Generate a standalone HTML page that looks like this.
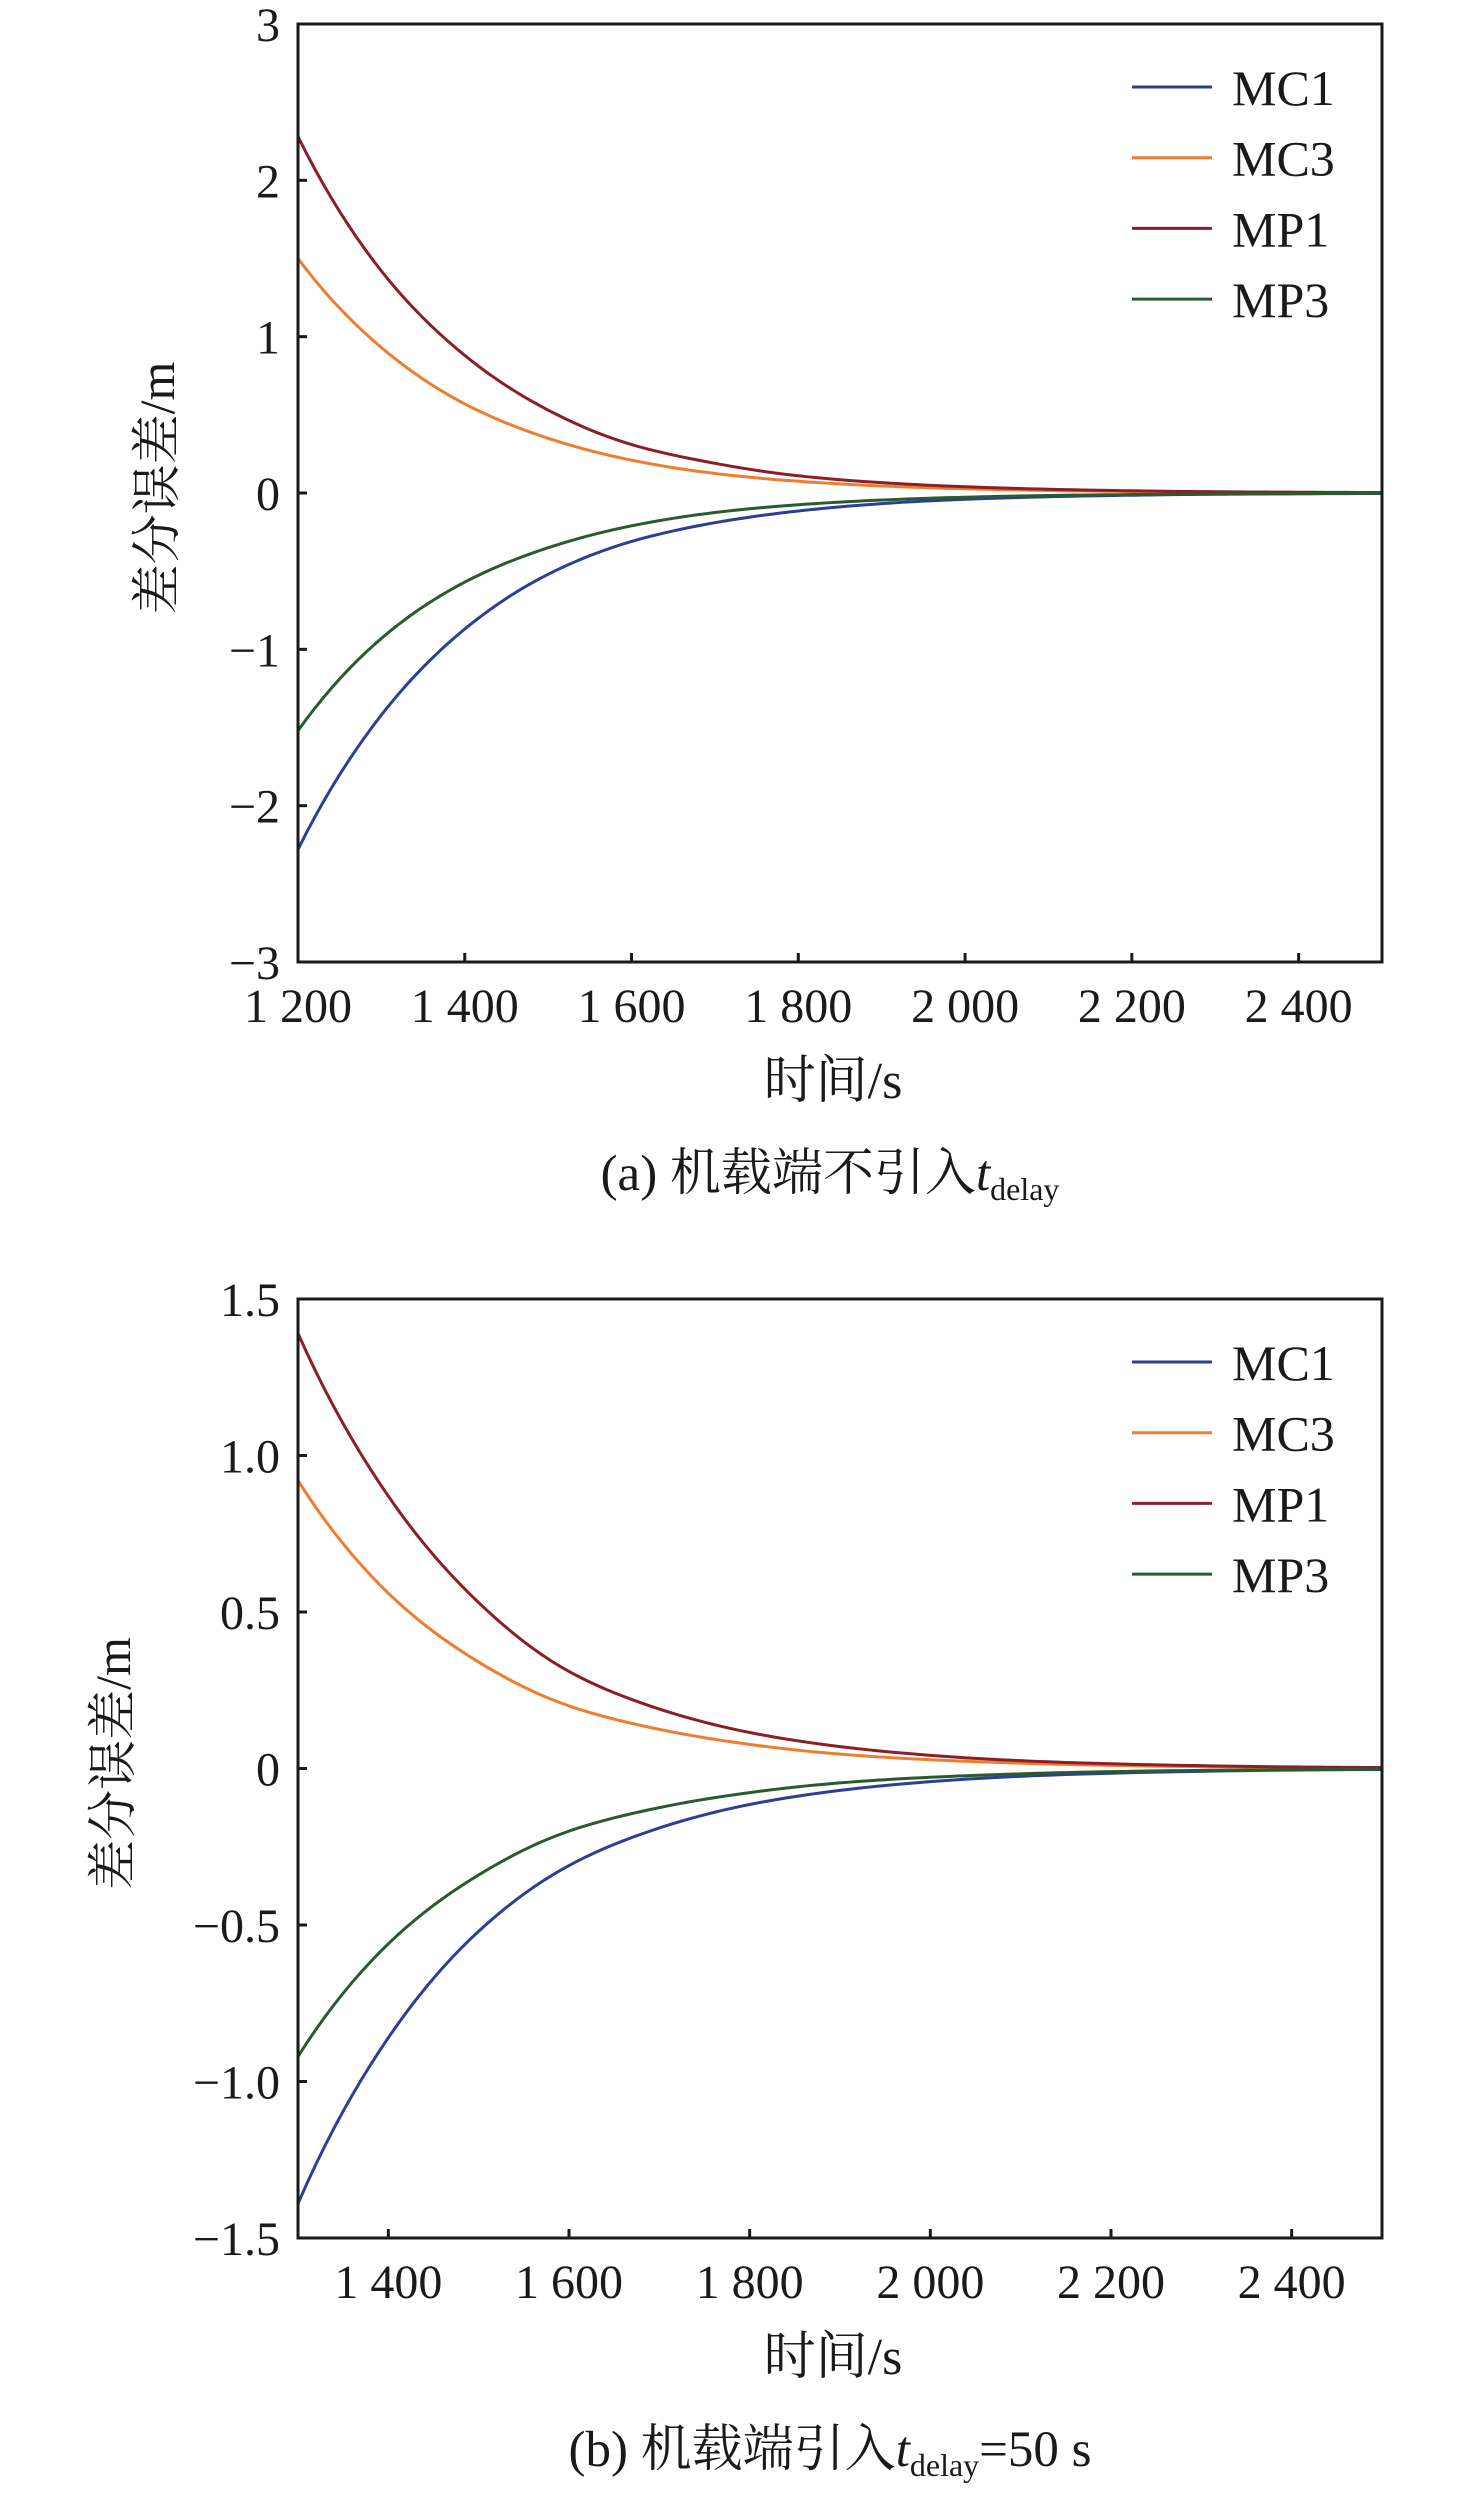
<!DOCTYPE html>
<html><head><meta charset="utf-8"><style>
html,body{margin:0;padding:0;background:#fff;}
svg{display:block;}
text{font-family:"Liberation Serif","Noto Serif CJK SC",serif;fill:#1a1a1a;}
</style></head><body>
<svg id="fig" width="1476" height="2495" viewBox="0 0 1476 2495" xmlns="http://www.w3.org/2000/svg"></svg>
<script>
const seriesNames = ["MC1","MC3","MP1","MP3"];
const seriesColors = ["#2b3f95","#ee7d2f","#8c1f26","#2a5a30"];
// Panel (a): time 1200..2500 step 100
const timesA = [1200,1300,1400,1500,1600,1700,1800,1900,2000,2100,2200,2300,2400,2500];
const mc1A = [-2.28,-1.42,-0.87,-0.52,-0.31,-0.19,-0.115,-0.068,-0.04,-0.024,-0.014,-0.008,-0.005,-0.003];
const mc3A = [1.50,0.93,0.57,0.35,0.21,0.125,0.075,0.045,0.027,0.016,0.01,0.006,0.004,0.002];
const mp1A = [2.28,1.42,0.88,0.53,0.31,0.19,0.11,0.066,0.04,0.024,0.014,0.008,0.005,0.003];
const mp3A = [-1.52,-0.93,-0.57,-0.35,-0.21,-0.125,-0.075,-0.045,-0.027,-0.016,-0.01,-0.006,-0.004,-0.002];
const yTicksA = [-3,-2,-1,0,1,2,3];
const yTickLabelsA = ["\u22123","\u22122","\u22121","0","1","2","3"];
const xTicksA = [1200,1400,1600,1800,2000,2200,2400];
const xTickLabelsA = ["1 200","1 400","1 600","1 800","2 000","2 200","2 400"];
// Panel (b): time 1300..2500 step 100
const timesB = [1300,1400,1500,1600,1700,1800,1900,2000,2100,2200,2300,2400,2500];
const mc1B = [-1.39,-0.86,-0.52,-0.31,-0.19,-0.115,-0.07,-0.042,-0.025,-0.015,-0.009,-0.005,-0.003];
const mc3B = [0.92,0.56,0.34,0.20,0.125,0.077,0.046,0.028,0.017,0.01,0.006,0.004,0.002];
const mp1B = [1.39,0.87,0.53,0.31,0.19,0.115,0.07,0.042,0.025,0.015,0.009,0.005,0.003];
const mp3B = [-0.92,-0.56,-0.34,-0.20,-0.125,-0.077,-0.046,-0.028,-0.017,-0.01,-0.006,-0.004,-0.002];
const yTicksB = [-1.5,-1.0,-0.5,0,0.5,1.0,1.5];
const yTickLabelsB = ["\u22121.5","\u22121.0","\u22120.5","0","0.5","1.0","1.5"];
const xTicksB = [1400,1600,1800,2000,2200,2400];
const xTickLabelsB = ["1 400","1 600","1 800","2 000","2 200","2 400"];

const NS="http://www.w3.org/2000/svg";
const svg=document.getElementById('fig');
function mk(tag,attrs,parent){const e=document.createElementNS(NS,tag);for(const k in attrs)e.setAttribute(k,attrs[k]);(parent||svg).appendChild(e);return e;}

// smooth interpolation in log-magnitude space (exponential-like decay)
function smoothPts(times,vals){
  const sgn=vals[0]<0?-1:1;
  const lg=vals.map(v=>Math.log(Math.max(Math.abs(v),1e-6)));
  const n=times.length,out=[];
  for(let j=0;j<n-1;j++){
    const m0=j>0?(lg[j+1]-lg[j-1])/2:(lg[1]-lg[0]);
    const m1=j<n-2?(lg[j+2]-lg[j])/2:(lg[n-1]-lg[n-2]);
    for(let s=0;s<10;s++){
      const u=s/10,h00=2*u*u*u-3*u*u+1,h10=u*u*u-2*u*u+u,h01=-2*u*u*u+3*u*u,h11=u*u*u-u*u;
      const L=h00*lg[j]+h10*m0+h01*lg[j+1]+h11*m1;
      out.push([times[j]+u*(times[j+1]-times[j]),sgn*Math.exp(L)]);
    }
  }
  out.push([times[n-1],vals[n-1]]);
  return out;
}

function panel(cfg){
  const g=mk('g',{});
  
  
  const L=298,R=1382,T=cfg.top,B=cfg.bottom;
  const sx=v=>L+(v-cfg.xmin)/(cfg.xmax-cfg.xmin)*(R-L);
  const sy=v=>B-(v-cfg.ymin)/(cfg.ymax-cfg.ymin)*(B-T);
  const clip=mk('clipPath',{id:cfg.id+'-clip'},g);
  mk('rect',{x:L,y:T,width:R-L,height:B-T},clip);
  cfg.series.forEach((vals,i)=>{
    const pts=smoothPts(cfg.times,vals);
    const d='M'+pts.map(p=>sx(p[0]).toFixed(2)+','+sy(p[1]).toFixed(2)).join(' L');
    const p=mk('path',{d:d,fill:'none',stroke:seriesColors[i],'stroke-width':3,'stroke-linejoin':'round','clip-path':'url(#'+cfg.id+'-clip)'},g);
    
    
  });
  const fr=mk('rect',{x:L,y:T,width:R-L,height:B-T,fill:'none',stroke:'#1a1a1a','stroke-width':3},g);
  
  
  cfg.yTicks.forEach((v,i)=>{
    const y=sy(v);
    mk('line',{x1:L,y1:y,x2:L+9,y2:y,stroke:'#1a1a1a','stroke-width':3},g);
    const t=mk('text',{x:280,y:y+17,'text-anchor':'end','font-size':48},g);
    t.textContent=cfg.yLabels[i];
    
    
  });
  cfg.xTicks.forEach((v,i)=>{
    const x=sx(v);
    mk('line',{x1:x,y1:B,x2:x,y2:B-9,stroke:'#1a1a1a','stroke-width':3},g);
    const t=mk('text',{x:x,y:B+60,'text-anchor':'middle','font-size':48},g);
    t.textContent=cfg.xLabels[i];
    
    
  });
  seriesNames.forEach((n,i)=>{
    const y=T+63+i*70.7;
    const ln=mk('line',{x1:1132,y1:y,x2:1212,y2:y,stroke:seriesColors[i],'stroke-width':3},g);
    
    
    const t=mk('text',{x:1232,y:y+18,'font-size':50},g);
    t.textContent=n;
    
    
  });
  const yt=mk('text',{x:0,y:0,'text-anchor':'middle','font-size':50,transform:'translate('+(cfg.ytx)+','+((T+B)/2-5)+') rotate(-90)'},g);
  yt.textContent='差分误差/m';
  
  
  const xt=mk('text',{x:833,y:B+136,'text-anchor':'middle','font-size':52},g);
  xt.textContent='时间/s';
  
  
  const cap=mk('text',{x:cfg.capx,y:B+228,'text-anchor':'middle','font-size':51},g);
  cap.innerHTML=cfg.caption;
  
  
}
panel({id:'panel-a',top:24,bottom:962,xmin:1200,xmax:2500,ymin:-3,ymax:3,times:timesA,series:[mc1A,mc3A,mp1A,mp3A],
  yTicks:yTicksA,yLabels:yTickLabelsA,xTicks:xTicksA,xLabels:xTickLabelsA,ytx:174,capx:830,
  caption:'(a) 机载端不引入<tspan font-style="italic">t</tspan><tspan font-size="32" dy="10">delay</tspan>'});
panel({id:'panel-b',top:1299,bottom:2238,xmin:1300,xmax:2500,ymin:-1.5,ymax:1.5,times:timesB,series:[mc1B,mc3B,mp1B,mp3B],
  yTicks:yTicksB,yLabels:yTickLabelsB,xTicks:xTicksB,xLabels:xTickLabelsB,ytx:130,capx:830,
  caption:'(b) 机载端引入<tspan font-style="italic">t</tspan><tspan font-size="32" dy="10">delay</tspan><tspan dy="-10">=50 s</tspan>'});
</script>
</body></html>
